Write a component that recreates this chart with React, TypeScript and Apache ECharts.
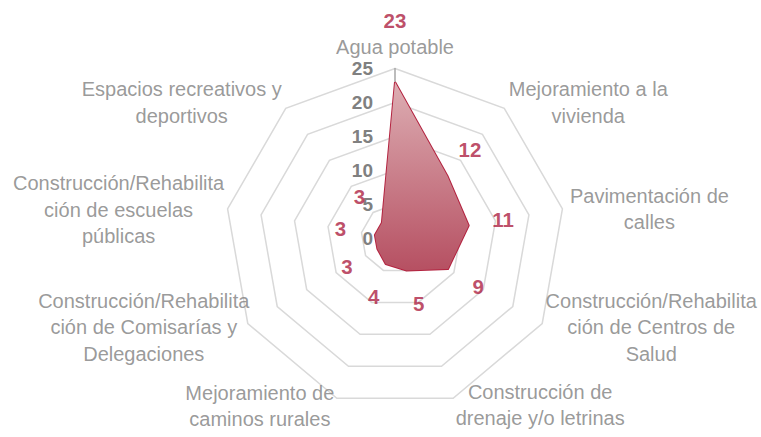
import React, { useEffect, useRef } from "react";
import * as echarts from "echarts";

const categories: string[] = [
  "Agua potable",
  "Mejoramiento a la\nvivienda",
  "Pavimentación de\ncalles",
  "Construcción/Rehabilita\nción de Centros de\nSalud",
  "Construcción de\ndrenaje y/o letrinas",
  "Mejoramiento de\ncaminos rurales",
  "Construcción/Rehabilita\nción de Comisarías y\nDelegaciones",
  "Construcción/Rehabilita\nción de escuelas\npúblicas",
  "Espacios recreativos y\ndeportivos",
];
const values: number[] = [23, 12, 11, 9, 5, 4, 3, 3, 3];
const AXIS_MIN = 0;
const AXIS_MAX = 25;
const AXIS_INTERVAL = 5;

// styling / layout (not data)
const nameOffsets: number[][] = [
  [0, -21.5], [84, -6], [87, 0], [109, 3.5], [87, 7],
  [-77, 8], [-104, 3.5], [-109, 1], [-104, -6],
];
const valueLabelDist: number[] = [62, 35, 35, 35, 35, 35, 35, 35, 35];

const CENTER = [395, 238.5];
const RADIUS = 170;
const NARROW = "'Liberation Sans Narrow', 'Arial Narrow', 'Liberation Sans', sans-serif";

export default function App() {
  const ref = useRef<HTMLDivElement>(null);
  useEffect(() => {
    document.body.style.margin = "0";
    if (!ref.current) return;
    const chart = echarts.init(ref.current, undefined, { renderer: "svg" });
    const n = categories.length;
    // radar goes counter-clockwise; reorder so it reads clockwise
    const order = categories.map((_, j) => (n - j) % n);
    const step = (2 * Math.PI) / n;
    chart.setOption({
      animation: false,
      backgroundColor: "#ffffff",
      radar: {
        center: CENTER,
        radius: RADIUS,
        startAngle: 90,
        shape: "polygon",
        splitNumber: (AXIS_MAX - AXIS_MIN) / AXIS_INTERVAL,
        axisName: { show: false },
        axisLine: { show: false },
        axisTick: { show: false },
        axisLabel: { show: false },
        splitArea: { show: false },
        splitLine: { lineStyle: { color: "#d9d9d9", width: 1.5 } },
        indicator: order.map((i) => ({ name: categories[i], min: AXIS_MIN, max: AXIS_MAX })),
      },
      polar: { center: CENTER, radius: RADIUS },
      angleAxis: {
        type: "category",
        data: categories,
        boundaryGap: false,
        startAngle: 90,
        clockwise: true,
        axisLine: { show: false },
        axisTick: { show: false },
        axisLabel: { show: false },
        splitLine: { show: false },
      },
      radiusAxis: {
        min: AXIS_MIN,
        max: AXIS_MAX,
        interval: AXIS_INTERVAL,
        axisLine: { show: true, lineStyle: { color: "#a6a6a6", width: 1.5 } },
        axisTick: { show: false },
        splitLine: { show: false },
        axisLabel: {
          color: "#808080",
          fontWeight: "bold",
          fontSize: 19,
          fontFamily: "'Liberation Sans', Arial, sans-serif",
          margin: 22,
          showMinLabel: true,
          showMaxLabel: true,
          hideOverlap: false,
        },
        z: 1,
      },
      series: [
        {
          type: "radar",
          symbol: "none",
          lineStyle: { color: "#b3223f", width: 2 },
          areaStyle: {
            opacity: 1,
            color: new echarts.graphic.LinearGradient(0, 0, 0, 1, [
              { offset: 0, color: "#ddaeb3" },
              { offset: 1, color: "#b65062" },
            ]),
          },
          data: [{ value: order.map((i) => values[i]), name: "Valores" }],
          z: 2,
        },
        {
          type: "scatter",
          coordinateSystem: "polar",
          symbolSize: 0,
          silent: true,
          z: 3,
          data: values.map((v, i) => ({
            value: [v, i],
            label: {
              show: true,
              position: "inside",
              offset: [
                valueLabelDist[i] * Math.sin(i * step),
                -valueLabelDist[i] * Math.cos(i * step),
              ],
              formatter: String(v),
              color: "#ad1f42",
              fontWeight: "bold",
              fontSize: 20.5,
              fontFamily: NARROW,
            },
          })),
        },
        {
          type: "scatter",
          coordinateSystem: "polar",
          symbolSize: 0,
          silent: true,
          z: 3,
          data: categories.map((c, i) => ({
            value: [AXIS_MAX, i],
            label: {
              show: true,
              position: "inside",
              offset: nameOffsets[i],
              formatter: c,
              color: "#808080",
              fontSize: 20,
              lineHeight: 26.5,
              align: "center",
              fontFamily: NARROW,
            },
          })),
        },
      ],
    });
    return () => chart.dispose();
  }, []);
  return <div ref={ref} style={{ width: 761, height: 437 }} />;
}
